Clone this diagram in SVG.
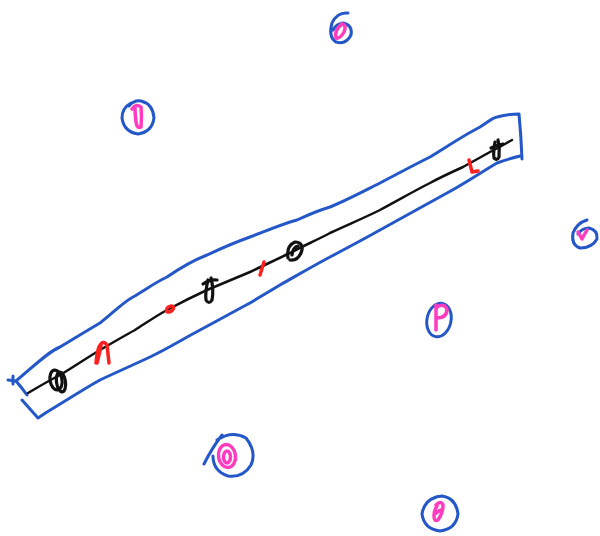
<svg xmlns="http://www.w3.org/2000/svg" width="600" height="536" viewBox="0 0 600 536">
<style>
.b{fill:none;stroke:#2457c8;stroke-width:3;stroke-linecap:round;stroke-linejoin:round}
.k{fill:none;stroke:#111;stroke-width:2.5;stroke-linecap:round;stroke-linejoin:round}
.km{fill:none;stroke:#111;stroke-width:3.2;stroke-linecap:round;stroke-linejoin:round}
.r{fill:none;stroke:#ff2020;stroke-width:3.5;stroke-linecap:round;stroke-linejoin:round}
.p{fill:none;stroke:#ff3cc0;stroke-width:3.5;stroke-linecap:round;stroke-linejoin:round}
</style>
<rect width="600" height="536" fill="#fff"/>
<g id="band">
<path class="b" d="M8,380 L16,381 M13,376 L13,384 M16,381 Q22,388 27,395"/>
<path class="b" d="M16,381 C35,365 48,352 60,347 C75,338 88,330 100,323 C112,314 122,303 133,297 C145,290 156,282 167,277 C180,268 194,260 207,255 C222,248 236,242 250,237 C266,231 282,224 297,220 C310,214 320,210 330,207 C347,200 364,191 380,183 C397,174 414,165 430,157 C448,146 466,134 480,127 C488,122 492,118 497,117 C505,115 512,114 519,114 Q521,135 522,159"/>
<path class="b" d="M520,156 C512,158 505,160 497,163 C480,173 464,184 447,193 C425,205 402,218 380,230 C364,239 347,248 330,257 C313,266 296,276 280,285 C270,291 260,297 250,303 C233,312 217,321 200,330 C183,339 167,349 150,357 C133,365 117,372 100,380 C82,390 64,402 47,412 L38,418 L22,400"/>
</g>
<g id="line">
<path class="k" d="M28,393 C40,386 50,380 60,375 C74,367 88,357 100,350 C112,343 124,336 135,330 C146,323 156,316 167,310 C180,303 194,296 207,290 C221,284 236,278 250,272 C263,266 277,259 290,253 C303,246 317,240 330,233 C347,225 364,218 380,210 C397,201 414,191 430,183 C441,177 452,172 463,167 C472,162 481,157 490,152 C498,148 505,144 512,140"/>
</g>
<g id="black-marks">
<ellipse class="km" cx="56" cy="380" rx="6" ry="10" transform="rotate(-10 56 380)"/>
<ellipse class="km" cx="61" cy="382" rx="4.5" ry="10" transform="rotate(-8 61 382)"/>
<path class="km" d="M203,284 Q210,279 217,280 M208,280 Q205,292 206,300 Q209,305 212,300 Q214,290 211,278"/>
<path class="km" d="M288,258 Q286,246 295,242 Q303,242 302,250 Q299,261 290,260 M292,255 Q293,247 298,246"/>
<path class="km" d="M491,148 Q497,145 503,144 M495,142 Q493,153 494,158 Q497,161 499,157 Q500,148 498,140"/>
</g>
<g id="red-marks">
<path class="r" d="M96,363 Q97,352 99,347 Q103,339 107,345 Q108,354 109,363 M101,346 Q99,356 97,363"/>
<ellipse class="r" cx="170" cy="309" rx="4" ry="2.5" transform="rotate(-35 170 309)"/>
<path class="r" d="M260,275 L264,262"/>
<path class="r" d="M469,160 L472,172 L478,171"/>
</g>
<g id="node-1">
<path class="b" d="M348,13 Q337,12 332,23 Q328,37 336,42 Q346,45 351,35 Q353,25 343,23 Q336,24 333,30"/>
<path class="p" d="M336,38 Q334,30 342,24 Q347,25 344,32 Q340,39 336,38"/>
</g>
<g id="node-2">
<path class="b" d="M131,103 Q122,108 122,118 Q124,132 138,134 Q152,132 154,118 Q153,104 141,101 Q134,100 129,106"/>
<path class="p" d="M132,109 Q136,103 141,107 Q142,116 141,127 Q137,129 136,122 Q135,114 135,108"/>
</g>
<g id="node-3">
<path class="b" d="M587,220 Q577,223 573,233 Q571,245 580,248 Q592,248 597,239 Q598,230 589,228 Q582,228 578,234"/>
<path class="p" d="M578,232 L582,239 L587,230"/>
</g>
<g id="node-4">
<ellipse class="b" cx="439" cy="320" rx="12" ry="17" transform="rotate(12 439 320)"/>
<path class="p" d="M436,305 L436,330 M436,308 Q443,302 447,309 Q447,318 437,318"/>
</g>
<g id="node-5">
<path class="b" d="M204,464 Q212,448 222,435 M217,440 Q232,430 246,438 Q257,452 251,465 Q243,478 228,476 Q213,471 213,456"/>
<ellipse class="p" cx="227" cy="456" rx="8.5" ry="11.5" transform="rotate(-8 227 456)"/>
<ellipse class="p" cx="227" cy="457" rx="3.5" ry="6"/>
</g>
<g id="node-6">
<path class="b" d="M436,497 Q424,501 422,514 Q424,529 440,531 Q456,529 458,514 Q456,498 442,496 Q437,496 432,499"/>
<path class="p" d="M436,505 Q441,500 443,505 Q443,513 438,520 Q434,522 434,516 Q434,510 437,506 M435,514 Q438,511 441,510"/>
</g>
</svg>
